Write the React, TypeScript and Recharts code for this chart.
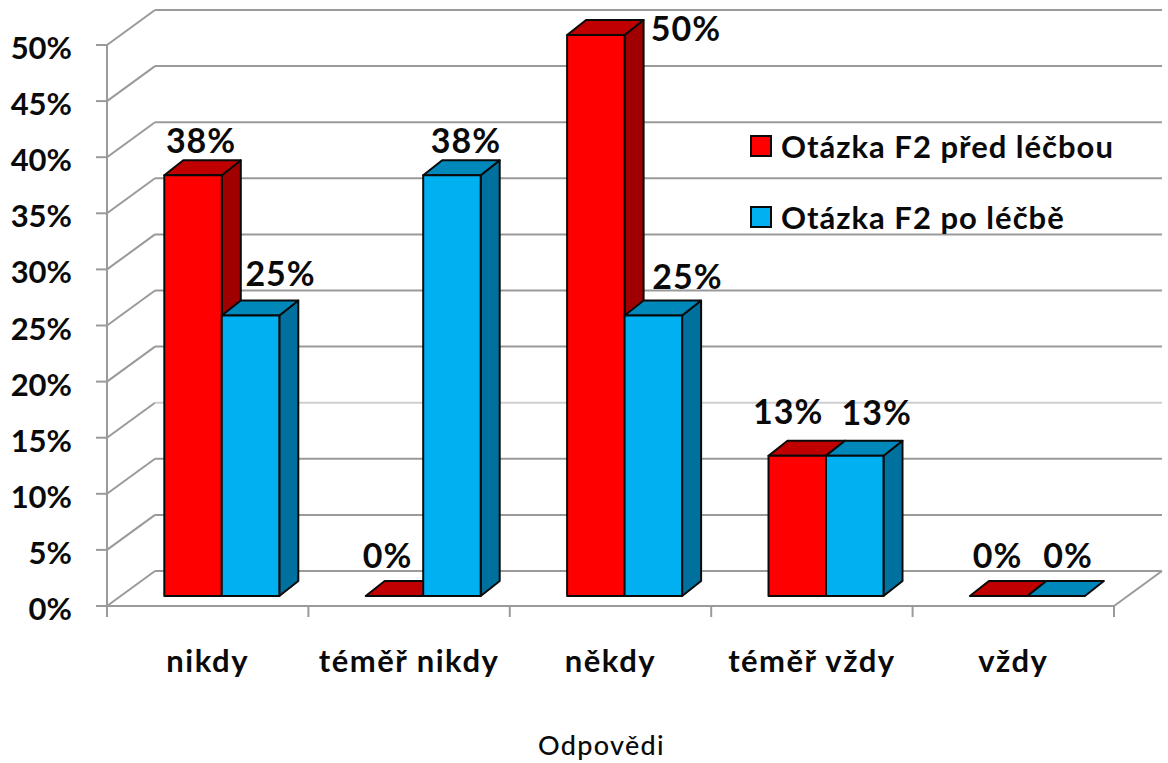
import React from "react";
import {
  Bar,
  BarChart,
  CartesianGrid,
  LabelList,
  Legend,
  XAxis,
  YAxis,
} from "recharts";

const categories = ["nikdy", "téměř nikdy", "někdy", "téměř vždy", "vždy"];
const predLecbou = [37.5, 0, 50, 12.5, 0];
const poLecbe = [25, 37.5, 25, 12.5, 0];
const percentTicks = [0, 5, 10, 15, 20, 25, 30, 35, 40, 45, 50];

const rows = categories.map((name, i) => ({
  name,
  pred: predLecbou[i],
  po: poLecbe[i],
}));

const FONT = "Lato, Carlito, sans-serif";
const GRID = "#9a9a9a";
const GRID_FAINT = "#cfcfcf";

// floor depth of the fake 3D box: wall sits WALL_* behind the axis, bars BAR_* behind it
const WALL_X = 48;
const WALL_Y = -35;
const BAR_X = 14.3;
const BAR_Y = -10;
const SIDE_X = 19;
const SIDE_Y = -15;
const BAND = 1007 / 5;

// label placement per category, relative to the top centre of the bar's front face
const predLabelShift = [
  [8, -22],
  [-7, -28],
  [90, 6],
  [-9, -32],
  [-1, -28],
];
const poLabelShift = [
  [30, -30],
  [14, -22],
  [34, -27],
  [22, -31],
  [12, -28],
];

const palette = {
  pred: { front: "#ff0000", top: "#c00000", side: "#a00000" },
  po: { front: "#00b0f0", top: "#0088bb", side: "#00709f" },
};

const box3d = (colors: { front: string; top: string; side: string }) => (props: any) => {
  const x = props.x + BAR_X;
  const y = props.y + BAR_Y;
  const w = props.width;
  const h = props.height;
  const edge = { stroke: "#0a0a0a", strokeWidth: 2, strokeLinejoin: "round" as const };
  return (
    <g>
      {h > 0 && (
        <path
          d={`M${x + w},${y} L${x + w + SIDE_X},${y + SIDE_Y} L${x + w + SIDE_X},${y + h + SIDE_Y} L${x + w},${y + h} Z`}
          fill={colors.side}
          {...edge}
        />
      )}
      <path
        d={`M${x},${y} L${x + SIDE_X},${y + SIDE_Y} L${x + w + SIDE_X},${y + SIDE_Y} L${x + w},${y} Z`}
        fill={colors.top}
        {...edge}
      />
      {h > 0 && <rect x={x} y={y} width={w} height={h} fill={colors.front} {...edge} />}
    </g>
  );
};

const barLabel = (shift: number[][]) => (props: any) => {
  const { x, y, width, value, index } = props;
  return (
    <text
      x={x + width / 2 + BAR_X + shift[index][0]}
      y={y + BAR_Y + shift[index][1]}
      textAnchor="middle"
      fontFamily={FONT}
      fontWeight={700}
      fontSize={34}
      letterSpacing={1}
      fill="#0a0a0a"
    >
      {Number(value).toFixed(0)}%
    </text>
  );
};

// horizontal grid line bent back along the side wall; the 15% line runs fainter on the wall
const wallLine = (props: any) => {
  const { x1, x2, y1, index } = props;
  const faint = index === percentTicks.indexOf(15);
  return (
    <g key={index}>
      <path
        d={`M${x1},${y1} L${x1 + WALL_X},${y1 + WALL_Y}`}
        fill="none"
        stroke={GRID}
        strokeWidth={2}
      />
      <path
        d={`M${x1 + WALL_X},${y1 + WALL_Y} L${x2 + WALL_X},${y1 + WALL_Y}`}
        fill="none"
        stroke={faint ? GRID_FAINT : GRID}
        strokeWidth={2}
      />
    </g>
  );
};

// category ticks sit on the band edges, the label on the band centre
const CategoryTick = (props: any) => {
  const { x, y, index, payload } = props;
  const left = x - BAND / 2;
  const top = y - 8;
  const bottom = y + 3;
  return (
    <g>
      <line x1={left} y1={top} x2={left} y2={bottom} stroke={GRID} strokeWidth={2} />
      {index === categories.length - 1 && (
        <>
          <line x1={left + BAND} y1={top} x2={left + BAND} y2={bottom} stroke={GRID} strokeWidth={2} />
          <path
            d={`M${left + BAND},${top} L${left + BAND + WALL_X},${top + WALL_Y}`}
            stroke={GRID}
            strokeWidth={2}
            fill="none"
          />
        </>
      )}
      <text
        x={x}
        y={672}
        textAnchor="middle"
        fontFamily={FONT}
        fontWeight={700}
        fontSize={31}
        letterSpacing={1.5}
        fill="#0a0a0a"
      >
        {payload.value}
      </text>
    </g>
  );
};

const LegendBlock = (props: any) => (
  <div style={{ fontFamily: FONT, fontWeight: 700, fontSize: 31, letterSpacing: 1, color: "#0a0a0a" }}>
    {props.payload.map((item: any) => (
      <div key={item.value} style={{ display: "flex", alignItems: "center", height: 71 }}>
        <span
          style={{
            width: 18,
            height: 18,
            background: item.color,
            border: "2px solid #0a0a0a",
            marginRight: 9,
          }}
        />
        <span style={{ whiteSpace: "nowrap" }}>{item.value}</span>
      </div>
    ))}
  </div>
);

export default function App() {
  return (
    <div style={{ position: "absolute", left: 0, top: 0, background: "#fff" }}>
      <BarChart
        width={1168}
        height={763}
        data={rows}
        margin={{ top: 45, right: 54, bottom: 0, left: 0 }}
        barSize={57.5}
        barGap={0}
      >
        <CartesianGrid vertical={false} horizontal={wallLine} />
        <XAxis
          dataKey="name"
          height={157}
          interval={0}
          axisLine={{ stroke: GRID, strokeWidth: 2 }}
          tickLine={false}
          tick={<CategoryTick />}
          label={{
            value: "Odpovědi",
            position: "insideBottom",
            offset: 8,
            dx: -9,
            style: { fontFamily: FONT, fontSize: 27, fontWeight: 500, letterSpacing: 1.3, fill: "#0a0a0a" },
          }}
        />
        <YAxis
          width={107}
          domain={[0, 50]}
          ticks={percentTicks}
          interval={0}
          allowDecimals={false}
          tickSize={11}
          tickMargin={24}
          axisLine={{ stroke: GRID, strokeWidth: 2 }}
          tickLine={{ stroke: GRID, strokeWidth: 2 }}
          tickFormatter={(v: number) => `${v}%`}
          tick={{ fontFamily: FONT, fontWeight: 700, fontSize: 31, fill: "#0a0a0a", dy: 3 }}
        />
        <Legend
          layout="vertical"
          align="center"
          verticalAlign="middle"
          itemSorter={null}
          content={<LegendBlock />}
          wrapperStyle={{ left: 750, top: 110, width: 400 }}
        />
        <Bar
          dataKey="pred"
          name="Otázka F2 před léčbou"
          fill={palette.pred.front}
          isAnimationActive={false}
          shape={box3d(palette.pred)}
        >
          <LabelList dataKey="pred" content={barLabel(predLabelShift)} />
        </Bar>
        <Bar
          dataKey="po"
          name="Otázka F2 po léčbě"
          fill={palette.po.front}
          isAnimationActive={false}
          shape={box3d(palette.po)}
        >
          <LabelList dataKey="po" content={barLabel(poLabelShift)} />
        </Bar>
      </BarChart>
    </div>
  );
}
